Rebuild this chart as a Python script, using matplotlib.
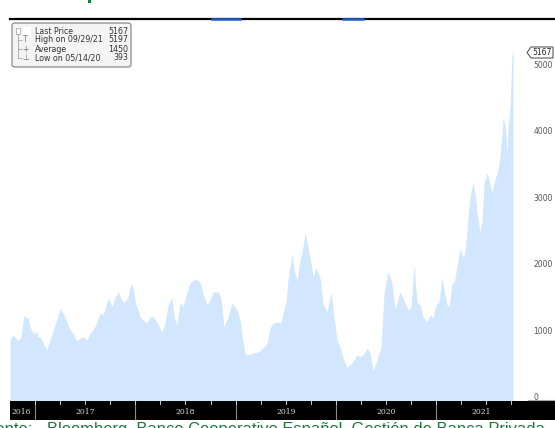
import matplotlib
matplotlib.use("Agg")
import matplotlib.pyplot as plt
from matplotlib.patches import FancyBboxPatch, Polygon, Rectangle
from matplotlib.lines import Line2D

# ---------------- data ----------------
t = [2016.751, 2016.761, 2016.781, 2016.811, 2016.831, 2016.860, 2016.890, 2016.910, 2016.930, 2016.950,
     2016.980, 2017.020, 2017.030, 2017.060, 2017.090, 2017.120, 2017.150, 2017.199, 2017.249, 2017.279,
     2017.319, 2017.349, 2017.379, 2017.419, 2017.449, 2017.479, 2017.518, 2017.548, 2017.578, 2017.618,
     2017.648, 2017.678, 2017.718, 2017.738, 2017.768, 2017.798, 2017.828, 2017.857, 2017.887, 2017.927,
     2017.957, 2017.977, 2018.007, 2018.027, 2018.047, 2018.077, 2018.117, 2018.147, 2018.176, 2018.216,
     2018.266, 2018.296, 2018.326, 2018.366, 2018.386, 2018.416, 2018.446, 2018.476, 2018.516, 2018.545,
     2018.595, 2018.645, 2018.675, 2018.715, 2018.745, 2018.775, 2018.825, 2018.854, 2018.884, 2018.924,
     2018.964, 2019.014, 2019.044, 2019.064, 2019.094, 2019.124, 2019.173, 2019.223, 2019.273, 2019.313,
     2019.343, 2019.373, 2019.423, 2019.453, 2019.473, 2019.502, 2019.522, 2019.562, 2019.582, 2019.612,
     2019.642, 2019.672, 2019.692, 2019.722, 2019.752, 2019.772, 2019.802, 2019.841, 2019.871, 2019.911,
     2019.951, 2019.981, 2020.011, 2020.041, 2020.071, 2020.111, 2020.160, 2020.210, 2020.240, 2020.270,
     2020.310, 2020.340, 2020.370, 2020.410, 2020.450, 2020.480, 2020.519, 2020.559, 2020.589, 2020.609,
     2020.639, 2020.669, 2020.719, 2020.749, 2020.779, 2020.809, 2020.838, 2020.868, 2020.908, 2020.938,
     2020.968, 2020.998, 2021.028, 2021.058, 2021.078, 2021.108, 2021.128, 2021.157, 2021.177, 2021.207,
     2021.237, 2021.267, 2021.287, 2021.317, 2021.337, 2021.367, 2021.387, 2021.407, 2021.437, 2021.457,
     2021.477, 2021.506, 2021.526, 2021.556, 2021.576, 2021.606, 2021.626, 2021.656, 2021.666, 2021.686,
     2021.706, 2021.716, 2021.736, 2021.756, 2021.766]
price = [870, 880, 925, 880, 835, 895, 1227, 1180, 1200, 1050,
         955, 970, 900, 880, 775, 715, 850, 1077, 1318, 1258,
         1122, 1000, 955, 835, 880, 900, 850, 955, 1000, 1122,
         1258, 1227, 1423, 1483, 1348, 1498, 1574, 1483, 1408, 1498,
         1709, 1634, 1378, 1303, 1200, 1152, 1107, 1197, 1200, 1122,
         970, 1107, 1378, 1483, 1200, 1077, 1423, 1348, 1574, 1709,
         1770, 1724, 1558, 1378, 1453, 1574, 1574, 1483, 1047, 1197,
         1408, 1303, 1152, 900, 650, 625, 655, 670, 730, 800,
         1030, 1107, 1122, 1107, 1258, 1423, 1754, 2160, 1905, 1754,
         2055, 2250, 2477, 2250, 2010, 1800, 1935, 1800, 1408, 1273,
         1574, 1197, 850, 745, 580, 444, 505, 625, 595, 625,
         730, 655, 393, 550, 745, 1558, 1875, 1709, 1303, 1423,
         1574, 1483, 1303, 1348, 1980, 1408, 1378, 1197, 1122, 1227,
         1182, 1378, 1423, 1800, 1604, 1378, 1348, 1709, 1709, 1950,
         2236, 2100, 2160, 2703, 3004, 3230, 3064, 2763, 2477, 2650,
         3215, 3366, 3260, 3080, 3215, 3366, 3486, 3967, 4194, 4089,
         3666, 4059, 4360, 5197, 5167]

years = ["2016", "2017", "2018", "2019", "2020", "2021"]
year_label_pos = [2016.77, 2017.5, 2018.5, 2019.5, 2020.5, 2021.45]
year_starts = [2017, 2018, 2019, 2020, 2021]
yticks = [0, 1000, 2000, 3000, 4000, 5000]

legend_labels = ["Last Price", "High on 09/29/21", "Average", "Low on 05/14/20"]
legend_values = ["5167", "5197", "1450", "393"]
last_price = "5167"
source_lead = "Fuente:"
source_text = "Bloomberg, Banco Cooperativo Español, Gestión de Banca Privada"

# ---------------- layout helpers ----------------
W, H = 555, 428
def fx(px):
    return px / W
def fy(py):
    return 1 - py / H

fig = plt.figure(figsize=(W / 100, H / 100), dpi=100)
fig.patch.set_facecolor("white")

XMIN, XMAX = 2016.751, 2022.184
# main axes: x 10..555, y 20..400
ax = fig.add_axes([fx(10), fy(400), fx(555) - fx(10), fy(20) - fy(400)])
ax.set_xlim(XMIN, XMAX)
ax.set_ylim(-53, 5670)
ax.fill_between(t, price, -100, color="#d2e7fd", linewidth=0)
for s in ax.spines.values():
    s.set_visible(False)
ax.set_xticks([])
ax.yaxis.tick_right()
ax.set_yticks(yticks)
ax.set_yticklabels([str(v) for v in yticks], fontsize=5.5, color="#555555",
                   family="DejaVu Sans")
ax.tick_params(axis="y", length=0, pad=-15.5)
for lab in ax.get_yticklabels():
    lab.set_horizontalalignment("left")

# small grey line next to the 0 label
fig.add_artist(Line2D([fx(528), fx(555)], [fy(400), fy(400)], color="#aaaaaa", lw=0.8))

# ---------------- bottom time bar ----------------
bar = fig.add_axes([fx(10), fy(420), fx(555) - fx(10), fy(401) - fy(420)])
bar.set_facecolor("black")
bar.set_xlim(XMIN, XMAX)
bar.set_ylim(0, 1)
bar.set_xticks([])
bar.set_yticks([])
for s in bar.spines.values():
    s.set_visible(False)
for ys in year_starts:
    bar.axvline(ys, color="#8a8a8a", lw=0.8)
q = 2017.0
while q < 2021.8:
    bar.plot([q, q], [1, 0.86], color="#cccccc", lw=0.7)
    q += 0.25
for lab, xp in zip(years, year_label_pos):
    ha = "left" if lab == "2016" else "center"
    bar.text(xp, 0.42, lab, color="#d8d8d8", fontsize=5.5, ha=ha, va="center",
             family="DejaVu Serif")

# ---------------- top header line ----------------
fig.add_artist(Line2D([fx(10), fx(555)], [fy(18.5), fy(18.5)], color="black", lw=1.6))
fig.add_artist(Line2D([fx(212), fx(240)], [fy(18.5), fy(18.5)], color="#1f5fd0", lw=1.8))
fig.add_artist(Line2D([fx(343), fx(363)], [fy(18.5), fy(18.5)], color="#1f5fd0", lw=1.8))
fig.add_artist(Rectangle((fx(88), fy(3)), fx(3), fy(0) - fy(3), color="#1d7a3a", lw=0))

# ---------------- legend box ----------------
box = FancyBboxPatch((fx(12), fy(67)), fx(131) - fx(12), fy(23) - fy(67),
                     boxstyle="round,pad=0,rounding_size=0.006",
                     transform=fig.transFigure, facecolor="#f4f4f4",
                     edgecolor="#8c8c8c", lw=0.9)
fig.add_artist(box)
rows_y = [31, 40, 49, 58]
for lab, val, ry in zip(legend_labels, legend_values, rows_y):
    fig.text(fx(35), fy(ry), lab, fontsize=5.7, color="#333333", va="center", ha="left",
             family="DejaVu Sans")
    fig.text(fx(128), fy(ry), val, fontsize=5.7, color="#333333", va="center", ha="right",
             family="DejaVu Sans")
# tree icons
fig.add_artist(Rectangle((fx(16), fy(34)), fx(4), fy(28) - fy(34), facecolor="white",
                         edgecolor="#999999", lw=0.5, transform=fig.transFigure))
fig.add_artist(Rectangle((fx(23), fy(35)), fx(8), fy(27) - fy(35), facecolor="white",
                         edgecolor="none", lw=0, transform=fig.transFigure))
fig.add_artist(Line2D([fx(18), fx(18)], [fy(34), fy(58)], color="#999999", lw=0.5))
for ry in [40, 49, 58]:
    fig.add_artist(Line2D([fx(18), fx(22)], [fy(ry), fy(ry)], color="#999999", lw=0.5))
fig.text(fx(25.5), fy(40), "T", fontsize=5.5, color="#777777", ha="center", va="center")
fig.text(fx(25.5), fy(49), "+", fontsize=5.5, color="#777777", ha="center", va="center")
fig.text(fx(25.5), fy(58), "⊥", fontsize=5.5, color="#777777", ha="center", va="center")

# ---------------- last price tag ----------------
tag = Polygon([(fx(527), fy(52.5)), (fx(531), fy(47)), (fx(553), fy(47)),
               (fx(553), fy(58)), (fx(531), fy(58))], closed=True,
              transform=fig.transFigure, facecolor="white", edgecolor="#444444", lw=0.7)
fig.add_artist(tag)
fig.text(fx(542), fy(52.5), last_price, fontsize=5.5, color="#222222", ha="center", va="center",
         family="DejaVu Sans")

# ---------------- source text (cut off at bottom, as in the reference) ----------------
fig.text(fx(47), fy(422), source_text, fontsize=11.9, color="#1d7a3a", ha="left", va="top",
         family="Liberation Sans")
fig.text(fx(33), fy(422), source_lead, fontsize=11.9, color="#1d7a3a", ha="right", va="top",
         family="Liberation Sans")

fig.savefig("out.png", dpi=100, facecolor="white")
